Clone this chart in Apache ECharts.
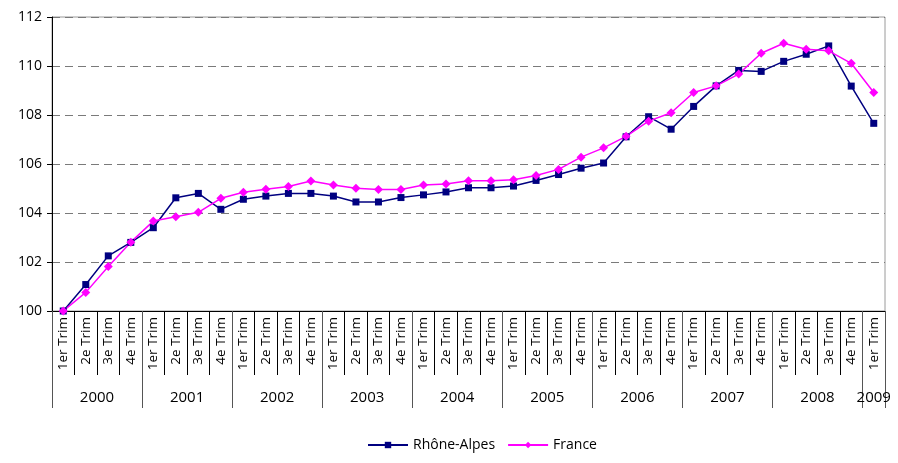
<!DOCTYPE html>
<html>
<head>
<meta charset="utf-8">
<script src="https://cdn.jsdelivr.net/npm/echarts@6/dist/echarts.min.js"></script>
<style>
  html, body { margin: 0; padding: 0; background: #fff; }
  #chart { width: 898px; height: 463px; }
</style>
</head>
<body>
<div id="chart"></div>
<script>
var quarters = []
var qNames = ['1er Trim', '2e Trim', '3e Trim', '4e Trim']
for (var y = 0; y < 9; y++) {
  for (var q = 0; q < 4; q++) quarters.push(qNames[q])
}
quarters.push('1er Trim')

var years = ['2000', '2001', '2002', '2003', '2004', '2005', '2006', '2007', '2008', '2009']
// year boundaries and label centres, in quarter units
var yearTicks = [0, 4, 8, 12, 16, 20, 24, 28, 32, 36, 37]
var yearLabelPos = [2, 6, 10, 14, 18, 22, 26, 30, 34, 36.5]

var rhoneAlpes = [
  100.0, 101.08, 102.25, 102.8,
  103.4, 104.62, 104.8, 104.15,
  104.56, 104.69, 104.8, 104.8,
  104.69, 104.45, 104.45, 104.63,
  104.74, 104.86, 105.03, 105.03,
  105.1, 105.33, 105.57, 105.83,
  106.04, 107.11, 107.93, 107.42,
  108.35, 109.19, 109.82, 109.78,
  110.19, 110.48, 110.82, 109.18,
  107.66
]
var france = [
  100.0, 100.76, 101.82, 102.81,
  103.67, 103.85, 104.03, 104.6,
  104.85, 104.97, 105.08, 105.31,
  105.14, 105.01, 104.96, 104.96,
  105.14, 105.18, 105.32, 105.32,
  105.36, 105.53, 105.78, 106.28,
  106.66, 107.13, 107.75, 108.09,
  108.92, 109.19, 109.67, 110.52,
  110.93, 110.68, 110.62, 110.11,
  108.92
]

var font = 'Open Sans'
var chart = echarts.init(document.getElementById('chart'))
chart.setOption({
  animation: false,
  textStyle: { fontFamily: font },
  grid: {
    left: 52, right: 13, top: 17, bottom: 152,
    show: true, borderColor: '#9a9a9a', borderWidth: 1
  },
  legend: {
    left: 362, top: 433,
    itemWidth: 40, itemHeight: 8, itemGap: 12,
    textStyle: { fontFamily: font, fontSize: 14, color: '#000' },
    data: ['Rhône-Alpes', 'France']
  },
  xAxis: [
    {
      type: 'category',
      data: quarters,
      boundaryGap: true,
      axisLine: { lineStyle: { color: '#000', width: 1 } },
      axisTick: { show: true, interval: 0, length: 64, lineStyle: { color: '#000' } },
      axisLabel: { interval: 0, rotate: 90, fontSize: 13.5, margin: 6, color: '#000' },
      splitLine: { show: false }
    },
    {
      type: 'value',
      min: 0, max: 37,
      position: 'bottom',
      axisLine: { show: false },
      axisTick: { show: true, length: 97, customValues: yearTicks, lineStyle: { color: '#555' } },
      axisLabel: {
        customValues: yearLabelPos,
        margin: 79, fontSize: 15, color: '#000',
        formatter: function (v) {
          return years[yearLabelPos.indexOf(v)]
        }
      },
      splitLine: { show: false }
    }
  ],
  yAxis: {
    type: 'value',
    min: 100, max: 112, interval: 2,
    axisLine: { show: true, lineStyle: { color: '#000' } },
    axisTick: { show: true, length: 5, lineStyle: { color: '#000' } },
    axisLabel: { fontSize: 14, color: '#000', margin: 10 },
    splitLine: { lineStyle: { color: '#7a7a7a', type: [8, 5], width: 1 } }
  },
  series: [
    {
      name: 'Rhône-Alpes',
      type: 'line',
      xAxisIndex: 0,
      data: rhoneAlpes,
      symbol: 'rect',
      symbolSize: 7,
      color: '#000080',
      lineStyle: { width: 1.5, color: '#000080' },
      itemStyle: { color: '#000080' }
    },
    {
      name: 'France',
      type: 'line',
      xAxisIndex: 0,
      data: france,
      symbol: 'diamond',
      symbolSize: 9,
      color: '#ff00ff',
      lineStyle: { width: 1.5, color: '#ff00ff' },
      itemStyle: { color: '#ff00ff' }
    }
  ]
})
</script>
</body>
</html>
